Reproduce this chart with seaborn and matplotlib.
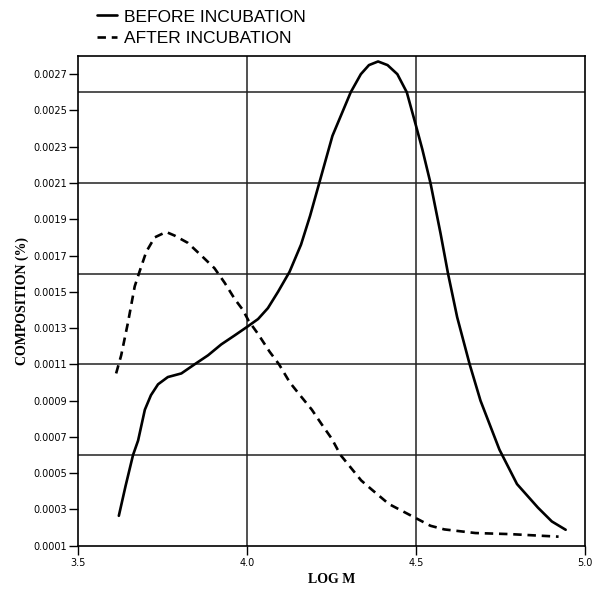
import numpy as np
import pandas as pd
import seaborn as sns
import matplotlib
matplotlib.use("Agg")
import matplotlib.pyplot as plt
from matplotlib.ticker import FixedLocator, FuncFormatter

# ---- data ----
before_logm = [3.62, 3.64, 3.662, 3.677, 3.697, 3.715, 3.736, 3.765, 3.805, 3.844,
               3.884, 3.923, 3.963, 4.002, 4.032, 4.061, 4.091, 4.125, 4.159, 4.186,
               4.213, 4.252, 4.306, 4.336, 4.36, 4.387, 4.415, 4.444, 4.472, 4.5,
               4.518, 4.542, 4.572, 4.594, 4.621, 4.658, 4.69, 4.746, 4.798, 4.86,
               4.901, 4.942]
before_comp = [0.000265, 0.00043, 0.0006, 0.00068, 0.00085, 0.00093, 0.00099, 0.00103,
               0.00105, 0.0011, 0.00115, 0.00121, 0.00126, 0.00131, 0.00135, 0.00141,
               0.0015, 0.00161, 0.00176, 0.00192, 0.0021, 0.00236, 0.0026, 0.0027,
               0.00275, 0.00277, 0.00275, 0.0027, 0.0026, 0.00241, 0.002285, 0.0021,
               0.00182, 0.0016, 0.00136, 0.0011, 0.0009, 0.00063, 0.00044, 0.00031,
               0.000234, 0.000188]

after_logm = [3.612, 3.627, 3.647, 3.667, 3.681, 3.701, 3.726, 3.76, 3.785, 3.824,
              3.864, 3.903, 3.933, 3.963, 3.987, 4.004, 4.031, 4.066, 4.094, 4.126,
              4.156, 4.191, 4.22, 4.25, 4.276, 4.337, 4.368, 4.419, 4.501, 4.542,
              4.583, 4.675, 4.778, 4.921]
after_comp = [0.00105, 0.00115, 0.00133, 0.00153, 0.00161, 0.00172, 0.0018, 0.00183,
              0.00181, 0.00177, 0.0017, 0.00163, 0.00155, 0.00146, 0.0014, 0.00134,
              0.00127, 0.00117, 0.0011, 0.001, 0.00093, 0.00085, 0.00077, 0.00069,
              0.0006, 0.00046, 0.00041, 0.00033, 0.00025, 0.00021, 0.00019, 0.00017,
              0.000164, 0.00015]

series_labels = ["BEFORE INCUBATION", "AFTER INCUBATION"]
x_ticks = [3.5, 4.0, 4.5, 5.0]
x_tick_labels = ["3.5", "4.0", "4.5", "5.0"]
y_ticks = [0.0001, 0.0003, 0.0005, 0.0007, 0.0009, 0.0011, 0.0013, 0.0015,
           0.0017, 0.0019, 0.0021, 0.0023, 0.0025, 0.0027]
y_grid = [0.0006, 0.0011, 0.0016, 0.0021, 0.0026]
x_grid = [4.0, 4.5]

sns.set_theme(style="white")
plt.rcParams["font.family"] = ["DejaVu Sans"]

fig = plt.figure(figsize=(6.03, 5.91), dpi=100)
ax = fig.add_axes([0.1298, 0.0766, 0.8408, 0.8286])

df_b = pd.DataFrame({"logm": before_logm, "comp": before_comp})
df_a = pd.DataFrame({"logm": after_logm, "comp": after_comp})

sns.lineplot(data=df_b, x="logm", y="comp", ax=ax, color="black", lw=1.9,
             label=series_labels[0], sort=False)
sns.lineplot(data=df_a, x="logm", y="comp", ax=ax, color="black", lw=1.9,
             label=series_labels[1], sort=False, linestyle=(0, (3.2, 2.2)))

ax.set_xlim(3.5, 5.0)
ax.set_ylim(0.0001, 0.0028)

ax.xaxis.set_major_locator(FixedLocator(x_ticks))
ax.set_xticklabels(x_tick_labels)
ax.yaxis.set_major_locator(FixedLocator(y_ticks))
ax.yaxis.set_major_formatter(FuncFormatter(lambda v, p: f"{v:.4f}"))

ax.tick_params(axis="both", which="major", direction="out", length=6.5, width=1.0,
               color="black", labelsize=7, pad=1.5, labelcolor="black",
               left=True, bottom=True)
ax.tick_params(axis="x", pad=2)

ax.grid(False)
for xv in x_grid:
    ax.axvline(xv, color="#222222", lw=1.1, zorder=0)
for yv in y_grid:
    ax.axhline(yv, color="#222222", lw=1.1, zorder=0)

for s in ax.spines.values():
    s.set_visible(True)
    s.set_color("black")
    s.set_linewidth(1.2)

ax.set_xlabel("LOG M", family="Liberation Serif", fontsize=10, fontweight="bold",
              color="black", labelpad=4)
ax.set_ylabel("COMPOSITION (%)", family="Liberation Serif", fontsize=10,
              fontweight="bold", color="black", labelpad=3)

leg = ax.legend(loc="upper left", bbox_to_anchor=(0.155, 0.99),
                bbox_transform=fig.transFigure, frameon=False,
                prop={"family": "Liberation Sans", "size": 12.5},
                handlelength=1.15, handletextpad=0.4, labelspacing=0.38,
                borderpad=0.2, borderaxespad=0)
for t in leg.get_texts():
    t.set_color("black")

fig.savefig("out.png", dpi=100, facecolor="white")
